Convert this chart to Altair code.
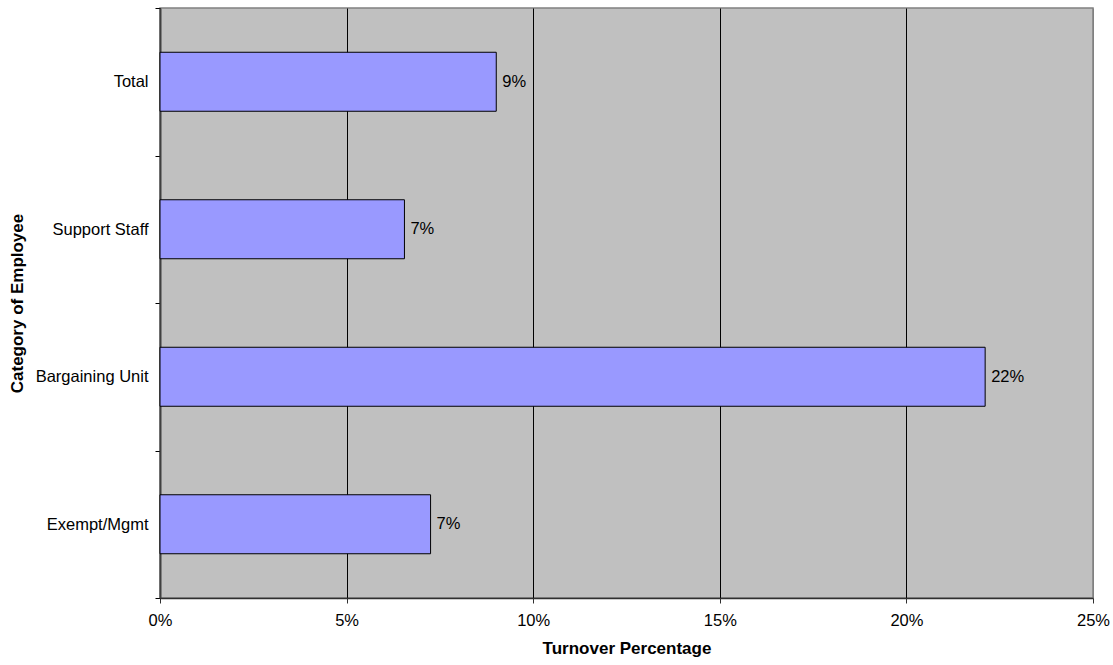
import altair as alt
import pandas as pd

categories = ["Total", "Support Staff", "Bargaining Unit", "Exempt/Mgmt"]
turnover = [0.0901, 0.0655, 0.2211, 0.0725]
x_ticks = [0, 0.05, 0.10, 0.15, 0.20, 0.25]

df = pd.DataFrame({"Category": categories, "Turnover": turnover})

FONT = "Liberation Sans"

x_enc = alt.X(
    "Turnover:Q",
    scale=alt.Scale(domain=[0, 0.25], nice=False, zero=True),
    axis=alt.Axis(
        title="Turnover Percentage",
        values=x_ticks,
        format=".0%",
        grid=True,
        gridColor={"condition": {"test": "datum.value >= 0.25", "value": "#808080"}, "value": "#000000"},
        gridWidth=1,
        domainColor="#303030",
        domainWidth=1.5,
        tickColor="#303030",
        tickSize=5,
        labelPadding=9,
        labelFlush=False,
        titlePadding=12,
    ),
)
y_enc = alt.Y(
    "Category:N",
    sort=categories,
    scale=alt.Scale(paddingInner=0, paddingOuter=0),
    axis=alt.Axis(
        title="Category of Employee",
        tickBand="extent",
        domainColor="#404040",
        domainWidth=2,
        tickColor="#000000",
        tickSize=5,
        labelPadding=7,
        titlePadding=9,
        grid=False,
    ),
)

bars = alt.Chart(df).mark_bar(
    color="#9999FF",
    stroke="#000000",
    strokeWidth=1,
    height=alt.RelativeBandSize(0.4),
).encode(x=x_enc, y=y_enc)

labels = alt.Chart(df).mark_text(
    align="left",
    baseline="middle",
    dx=6,
    font=FONT,
    fontSize=16.5,
    color="#000000",
).encode(
    x=alt.X("Turnover:Q"),
    y=alt.Y("Category:N", sort=categories),
    text=alt.Text("Turnover:Q", format=".0%"),
)

chart = (
    alt.layer(bars, labels)
    .properties(
        width=933,
        height=590,
        autosize=alt.AutoSizeParams(type="none"),
        padding={"left": 160, "top": 8, "right": 20, "bottom": 67},
        background="#FFFFFF",
    )
    .configure_view(fill="#C0C0C0", stroke="#808080", strokeWidth=1.5)
    .configure_axis(
        labelFont=FONT,
        labelFontSize=16.5,
        labelColor="#000000",
        titleFont=FONT,
        titleFontSize=17,
        titleFontWeight="bold",
        titleColor="#000000",
    )
)

chart.save("out.html", embed_options={"renderer": "svg", "actions": False})
